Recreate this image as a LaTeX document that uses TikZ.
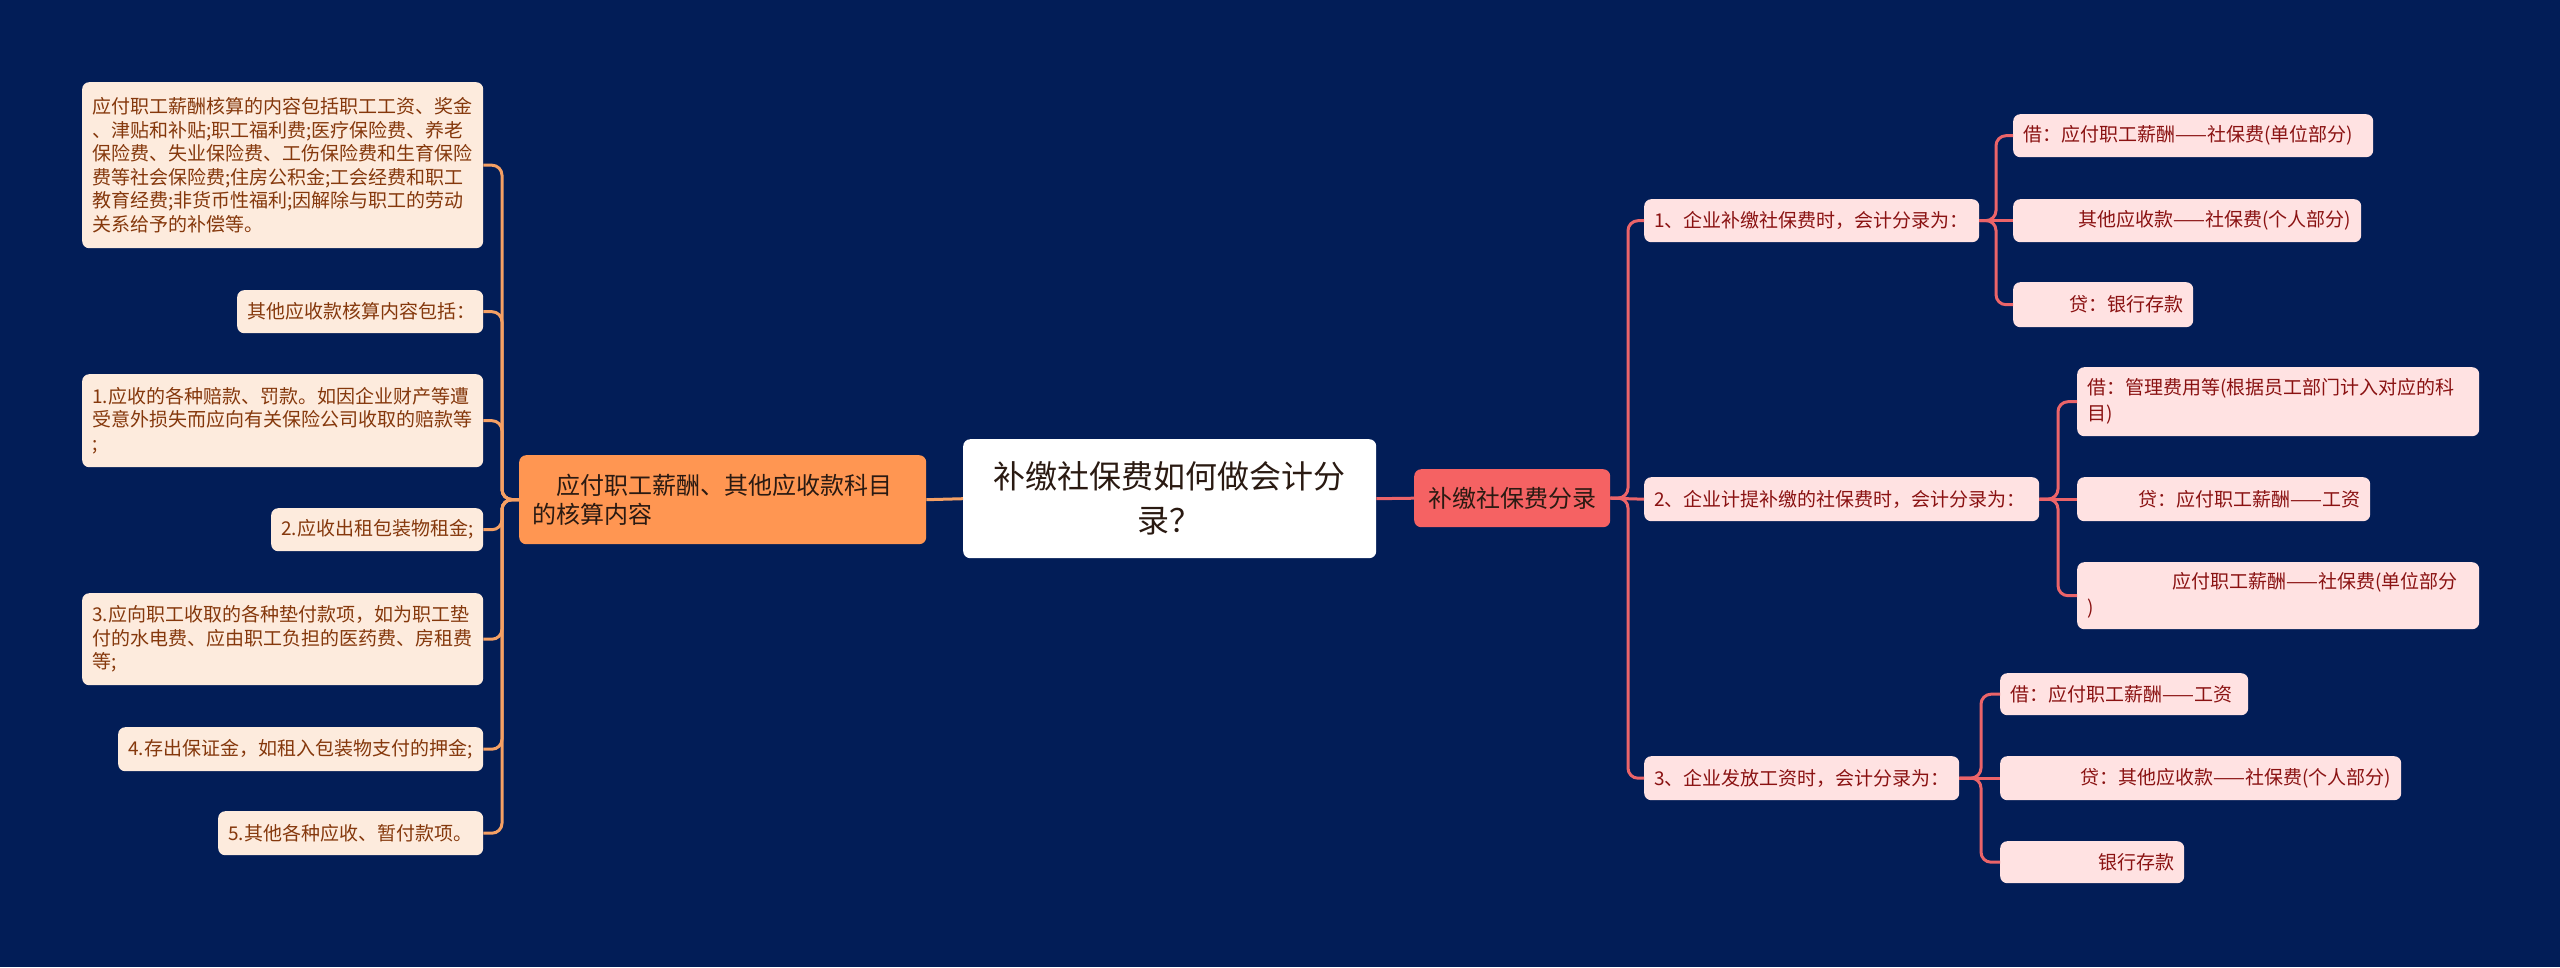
\documentclass[tikz,border=0pt]{standalone}
\usepackage{fontspec}
\setmainfont{Noto Sans CJK SC}
\definecolor{bg}{HTML}{021D57}
\definecolor{lfill}{HTML}{FDEBDD}
\definecolor{ltext}{HTML}{85380C}
\definecolor{lline}{HTML}{F5A064}
\definecolor{rfill}{HTML}{FFE2E2}
\definecolor{rtext}{HTML}{8A1212}
\definecolor{rline}{HTML}{EB6469}
\definecolor{ofill}{HTML}{FF9652}
\definecolor{redfill}{HTML}{F56263}
\definecolor{darktext}{HTML}{2A1A12}
\begin{document}
\begin{tikzpicture}[x=1pt,y=-1pt,
  box/.style={rounded corners=7pt, anchor=north west, inner xsep=10pt, inner ysep=0pt, align=left},
  lbox/.style={box, fill=lfill, text=ltext, font=\fontsize{19}{23.5}\selectfont},
  rbox/.style={box, fill=rfill, text=rtext, font=\fontsize{19}{26}\selectfont},
  llink/.style={draw=lline, line width=3pt, rounded corners=10pt},
  rlink/.style={draw=rline, line width=3pt, rounded corners=10pt},
  rstraight/.style={draw=rline, line width=3pt}]
\fill[bg] (0,0) rectangle (2560,967);
\useasboundingbox (0,0) rectangle (2560,967);

% centre
\node[box, fill=white, text=darktext, align=center, text width=393pt, minimum height=119pt,
  font=\fontsize{32}{44}\selectfont] (c) at (963,439) {补缴社保费如何做会计分\\录？};

% left branch
\node[box, fill=ofill, text=darktext, inner xsep=13pt, text width=381pt, minimum height=89pt,
  font=\fontsize{24}{29}\selectfont] (o) at (519,455) {\hspace*{24pt}应付职工薪酬、其他应收款科目\\的核算内容};

\node[lbox, text width=381pt, minimum height=166pt] (l1) at (82,82)
 {应付职工薪酬核算的内容包括职工工资、奖金\\、津贴和补贴;职工福利费;医疗保险费、养老\\保险费、失业保险费、工伤保险费和生育保险\\费等社会保险费;住房公积金;工会经费和职工\\教育经费;非货币性福利;因解除与职工的劳动\\关系给予的补偿等。};
\node[lbox, text width=226pt, minimum height=43pt] (l2) at (237,290) {其他应收款核算内容包括：};
\node[lbox, text width=381pt, minimum height=93pt] (l3) at (82,374)
 {1.应收的各种赔款、罚款。如因企业财产等遭\\受意外损失而应向有关保险公司收取的赔款等\\;};
\node[lbox, text width=192pt, minimum height=43pt] (l4) at (271,508) {2.应收出租包装物租金;};
\node[lbox, text width=381pt, minimum height=92pt] (l5) at (82,593)
 {3.应向职工收取的各种垫付款项，如为职工垫\\付的水电费、应由职工负担的医药费、房租费\\等;};
\node[lbox, text width=345pt, minimum height=44pt] (l6) at (118,727) {4.存出保证金，如租入包装物支付的押金;};
\node[lbox, text width=245pt, minimum height=44pt] (l7) at (218,811) {5.其他各种应收、暂付款项。};

\coordinate (lt) at (502,499.5);
\foreach \n in {l1,l2,l3,l4,l5,l6,l7}{
  \draw[llink] (o.west) -- (lt) |- (\n.east);
}
\draw[draw=lline, line width=3pt] (c.west) -- (o.east);

% right branch
\node[box, fill=redfill, text=darktext, align=center, text width=176pt, minimum height=58pt,
  font=\fontsize{24}{29}\selectfont] (r) at (1414,469) {补缴社保费分录};
\draw[rstraight] (c.east) -- (r.west);

\node[rbox, text width=315pt, minimum height=43pt] (r1) at (1644,199) {1、企业补缴社保费时，会计分录为：};
\node[rbox, text width=375pt, minimum height=44pt] (r2) at (1644,477) {2、企业计提补缴的社保费时，会计分录为：};
\node[rbox, text width=295pt, minimum height=44pt] (r3) at (1644,756) {3、企业发放工资时，会计分录为：};

\coordinate (rt) at (1628,498);
\foreach \n in {r1,r3}{
  \draw[rlink] (r.east) -- (rt) |- (\n.west);
}
\draw[rstraight] (r.east) -- (r2.west);

\node[rbox, text width=340pt, minimum height=43pt] (r1a) at (2013,114) {借：应付职工薪酬——社保费(单位部分)};
\node[rbox, align=right, text width=328pt, minimum height=43pt] (r1b) at (2013,199) {其他应收款——社保费(个人部分)};
\node[rbox, align=right, text width=160pt, minimum height=45pt] (r1c) at (2013,282) {贷：银行存款};
\coordinate (t1) at (1996,220.5);
\foreach \n in {r1a,r1c}{
  \draw[rlink] (r1.east) -- (t1) |- (\n.west);
}
\draw[rstraight] (r1.east) -- (r1b.west);

\node[rbox, text width=382pt, minimum height=69pt] (r2a) at (2077,367) {借：管理费用等(根据员工部门计入对应的科\\目)};
\node[rbox, align=right, text width=273pt, minimum height=44pt] (r2b) at (2077,477) {贷：应付职工薪酬——工资};
\node[rbox, text width=382pt, minimum height=67pt] (r2c) at (2077,562) {\hspace*{85pt}应付职工薪酬——社保费(单位部分\\)};
\coordinate (t2) at (2058,499);
\foreach \n in {r2a,r2c}{
  \draw[rlink] (r2.east) -- (t2) |- (\n.west);
}
\draw[rstraight] (r2.east) -- (r2b.west);

\node[rbox, text width=228pt, minimum height=42pt] (r3a) at (2000,673) {借：应付职工薪酬——工资};
\node[rbox, align=right, text width=381pt, minimum height=44pt] (r3b) at (2000,756) {贷：其他应收款——社保费(个人部分)};
\node[rbox, align=right, text width=164pt, minimum height=42pt] (r3c) at (2000,841) {银行存款};
\coordinate (t3) at (1981,778);
\foreach \n in {r3a,r3c}{
  \draw[rlink] (r3.east) -- (t3) |- (\n.west);
}
\draw[rstraight] (r3.east) -- (r3b.west);
\end{tikzpicture}
\end{document}
